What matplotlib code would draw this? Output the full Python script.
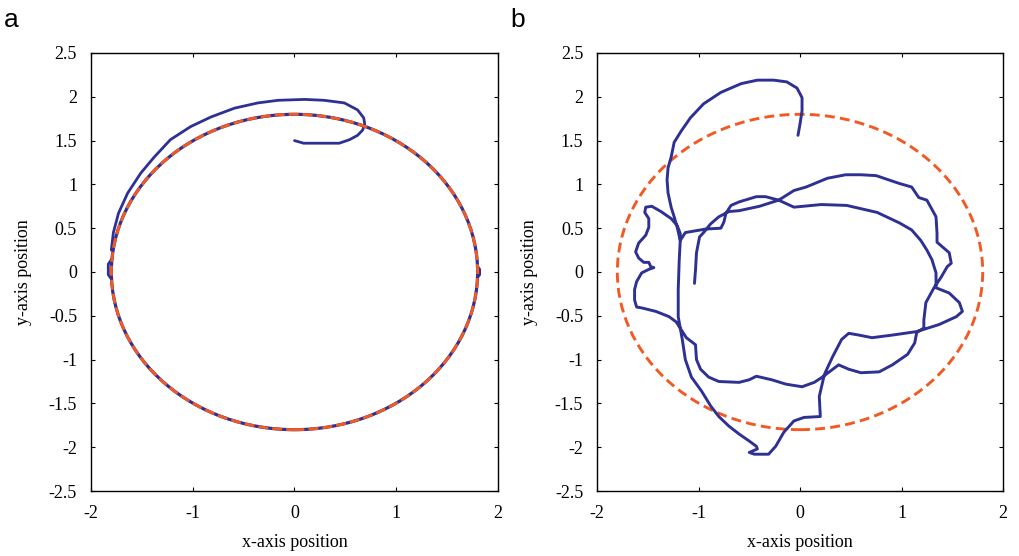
import matplotlib.pyplot as plt
from matplotlib.patches import Circle

# target circle (dashed orange) used in both panels
target_center = (0.0, 0.0)
target_radius = 1.8

# panel a: tracked path, the spiral part before it locks onto the circle
a_spiral_x = [0.00, 0.09, 0.29, 0.44, 0.54, 0.62, 0.67, 0.69, 0.68, 0.62, 0.49, 0.29, 0.10,
              -0.16, -0.36, -0.59, -0.82, -1.02, -1.22, -1.38, -1.51, -1.64, -1.73, -1.78, -1.80]
a_spiral_y = [1.50, 1.47, 1.47, 1.47, 1.51, 1.56, 1.62, 1.69, 1.76, 1.85, 1.93, 1.96, 1.97,
              1.96, 1.93, 1.87, 1.77, 1.66, 1.51, 1.31, 1.13, 0.90, 0.67, 0.45, 0.25]
# small bulges of the tracked path on the circle (left and right side)
a_bump_x = [-1.80, -1.83, -1.83, -1.80]
a_bump_y = [0.14, 0.09, -0.03, -0.08]
a_bump2_x = [1.80, 1.82, 1.82, 1.80]
a_bump2_y = [0.06, 0.03, -0.03, -0.06]

# panel b: tracked path
b_x = [-0.02, 0.00, 0.02, 0.02, -0.03, -0.13, -0.26, -0.42, -0.58, -0.78, -0.95, -1.08, -1.17,
       -1.24, -1.27, -1.30, -1.31, -1.30, -1.27, -1.24, -1.21, -1.18,
       -1.19, -1.20, -1.20, -1.16, -1.13, -1.07, -0.97, -0.88, -0.80, -0.70, -0.60, -0.50, -0.43,
       -0.42, -0.50, -0.45, -0.31, -0.24, -0.16, -0.06, 0.04, 0.20, 0.19, 0.24, 0.32, 0.41, 0.48,
       0.58, 0.71, 0.91, 1.15, 1.37, 1.54, 1.60, 1.57, 1.47, 1.34, 1.34, 1.30, 1.25, 1.19, 1.10,
       0.98, 0.76, 0.46, 0.21, -0.06, -0.21, -0.34, -0.43, -0.60, -0.68, -0.73, -0.75, -0.78,
       -0.93, -1.13, -1.18,
       -1.18, -1.21, -1.27, -1.37, -1.46, -1.52, -1.53, -1.49, -1.49, -1.52, -1.59, -1.62, -1.59,
       -1.54, -1.49, -1.47, -1.44, -1.49, -1.56, -1.61, -1.63, -1.63, -1.61, -1.56, -1.42, -1.29,
       -1.22, -1.12, -1.03, -1.02, -0.98, -0.90, -0.80, -0.60, -0.50, -0.43, -0.28, -0.14, 0.02,
       0.14, 0.22, 0.38, 0.48, 0.60, 0.78, 0.91, 1.06, 1.13, 1.15, 1.22, 1.22, 1.24, 1.32, 1.39,
       1.45, 1.49, 1.47, 1.35, 1.35, 1.34, 1.25, 1.17, 1.10, 0.98, 0.75, 0.60, 0.45, 0.27, 0.06,
       -0.06, -0.21, -0.40, -0.60, -0.70, -0.80, -0.88, -0.95, -0.99, -1.02, -1.03, -1.04]
b_y = [1.56, 1.69, 1.84, 1.99, 2.10, 2.17, 2.19, 2.19, 2.15, 2.05, 1.92, 1.76, 1.61,
       1.48, 1.31, 1.19, 1.05, 0.90, 0.74, 0.63, 0.51, 0.36,
       0.14, -0.20, -0.51, -0.77, -1.00, -1.20, -1.36, -1.53, -1.65, -1.76, -1.85, -1.93, -1.99,
       -2.02, -2.06, -2.08, -2.08, -1.99, -1.83, -1.70, -1.66, -1.65, -1.42, -1.17, -0.97, -0.77, -0.70,
       -0.72, -0.75, -0.72, -0.68, -0.60, -0.51, -0.45, -0.35, -0.24, -0.18, -0.01, 0.14, 0.25, 0.36, 0.48,
       0.56, 0.68, 0.76, 0.77, 0.74, 0.82, 0.86, 0.86, 0.80, 0.76, 0.67, 0.57, 0.50,
       0.49, 0.45, 0.36,
       0.44, 0.53, 0.61, 0.69, 0.75, 0.74, 0.68, 0.61, 0.51, 0.42, 0.33, 0.23, 0.16,
       0.11, 0.11, 0.06, 0.05, 0.03, -0.01, -0.11, -0.20, -0.32, -0.40, -0.41, -0.45, -0.51,
       -0.57, -0.75, -0.83, -1.00, -1.11, -1.20, -1.25, -1.26, -1.23, -1.19, -1.23, -1.28, -1.31,
       -1.26, -1.20, -1.06, -1.11, -1.15, -1.14, -1.06, -0.94, -0.81, -0.69, -0.64, -0.55, -0.35, -0.18, -0.06,
       0.06, 0.10, 0.22, 0.34, 0.44, 0.63, 0.82, 0.85, 0.97, 1.01, 1.10, 1.11, 1.11, 1.07, 0.97,
       0.93, 0.82, 0.75, 0.70, 0.69, 0.63, 0.55, 0.45, 0.40, 0.22, 0.02, -0.13]

x_ticks = [-2, -1, 0, 1, 2]
y_ticks = [-2.5, -2, -1.5, -1, -0.5, 0, 0.5, 1, 1.5, 2, 2.5]

BLUE = '#2e3192'
ORANGE = '#f15a24'


def tick_text(v):
    s = ('%g' % v)
    return s


def style_axes(ax):
    ax.set_xlim(-2, 2)
    ax.set_ylim(-2.5, 2.5)
    ax.set_xticks(x_ticks)
    ax.set_yticks(y_ticks)
    ax.set_xticklabels([tick_text(v) for v in x_ticks])
    ax.set_yticklabels([tick_text(v) for v in y_ticks])
    ax.tick_params(direction='in', length=3, width=0.8, top=True, right=True,
                   labelsize=13, colors='black')
    ax.tick_params(axis='x', pad=10)
    ax.tick_params(axis='y', pad=10)
    for lab in ax.get_xticklabels() + ax.get_yticklabels():
        lab.set_family('Liberation Serif')
    for sp in ax.spines.values():
        sp.set_linewidth(1.0)
    ax.set_xlabel('x-axis position', family='Liberation Serif', fontsize=13, labelpad=9)
    ax.set_ylabel('y-axis position', family='Liberation Serif', fontsize=13, labelpad=12)


def main():
    fig = plt.figure(figsize=(10.19, 5.56), dpi=100)
    ax_a = fig.add_axes([0.0893, 0.1169, 0.3994, 0.7878])
    ax_b = fig.add_axes([0.5859, 0.1169, 0.3984, 0.7878])

    # panel a
    ax_a.plot(a_spiral_x, a_spiral_y, color=BLUE, lw=2.0, solid_capstyle='round',
              solid_joinstyle='round', zorder=2)
    ax_a.plot(a_bump_x, a_bump_y, color=BLUE, lw=2.0, zorder=2)
    ax_a.plot(a_bump2_x, a_bump2_y, color=BLUE, lw=2.0, zorder=2)
    ax_a.add_patch(Circle(target_center, target_radius, fill=False, edgecolor=BLUE, lw=2.3, zorder=2))
    ax_a.add_patch(Circle(target_center, target_radius, fill=False, edgecolor=ORANGE, lw=2.1,
                          linestyle=(0, (3.4, 1.4)), zorder=3))
    style_axes(ax_a)

    # panel b
    ax_b.add_patch(Circle(target_center, target_radius, fill=False, edgecolor=ORANGE, lw=2.1,
                          linestyle=(0, (3.4, 1.8)), zorder=2))
    ax_b.plot(b_x, b_y, color=BLUE, lw=2.1, solid_joinstyle='round', solid_capstyle='round',
              zorder=3)
    style_axes(ax_b)

    fig.text(0.004, 0.951, 'a', family='Liberation Sans', fontsize=19)
    fig.text(0.501, 0.951, 'b', family='Liberation Sans', fontsize=19)

    fig.savefig('out.png', dpi=100)


if __name__ == "__main__": main()
